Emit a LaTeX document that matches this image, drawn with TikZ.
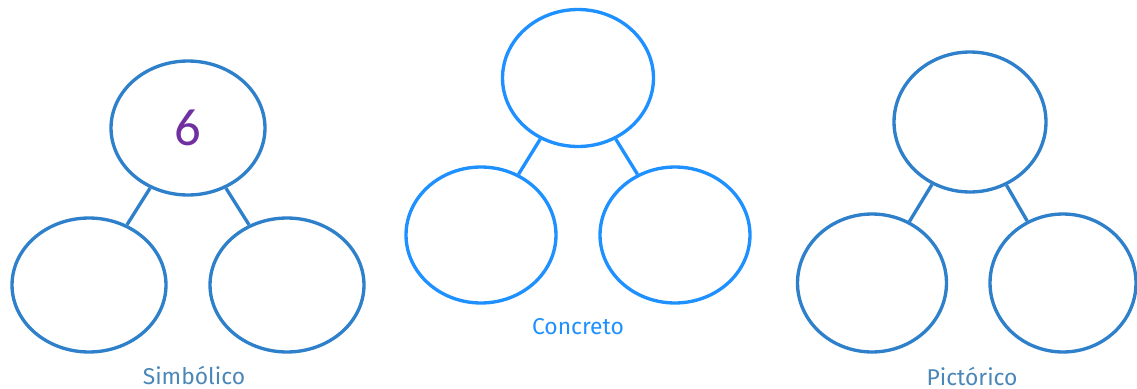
\documentclass[tikz,border=0pt]{standalone}
\usepackage{fontspec}
\setmainfont{Fira Sans}
\newfontfamily\numfont{Carlito}
\usetikzlibrary{shapes.geometric}
\definecolor{ringblue}{RGB}{46,128,202}
\definecolor{brightblue}{RGB}{30,144,255}
\definecolor{labblue}{RGB}{74,134,184}
\definecolor{numpurple}{RGB}{112,48,160}
\tikzset{
  bond/.style={ellipse,draw=ringblue,line width=1.9pt,inner sep=0pt},
  cbond/.style={bond,draw=brightblue},
  link/.style={ringblue,line width=1.9pt},
  clink/.style={link,brightblue},
  glab/.style={font=\fontsize{13}{15}\selectfont,text=labblue},
  every picture/.style={x=0.02cm,y=-0.02cm}
}
\begin{document}
\begin{tikzpicture}
  \useasboundingbox (0,0) rectangle (1137,389);
  % Simbolico
  \node[bond,minimum width=3.08cm,minimum height=2.68cm] (stop) at (188,128) {\numfont\fontsize{30}{32}\selectfont\color{numpurple}6};
  \node[bond,minimum width=3.08cm,minimum height=2.68cm] (sleft) at (89,285) {};
  \node[bond,minimum width=3.08cm,minimum height=2.68cm] (sright) at (287,285) {};
  \draw[link] (stop) -- (sleft); \draw[link] (stop) -- (sright);
  \node[glab] (slab) at (194,375) {Simbólico};
  % Concreto
  \node[cbond,minimum width=3.02cm,minimum height=2.74cm] (ctop) at (578,78) {};
  \node[cbond,minimum width=3.0cm,minimum height=2.72cm] (cleft) at (481,235) {};
  \node[cbond,minimum width=3.0cm,minimum height=2.72cm] (cright) at (675,235) {};
  \draw[clink] (ctop) -- (cleft); \draw[clink] (ctop) -- (cright);
  \node[glab,text=brightblue] (clab) at (578,327) {Concreto};
  % Pictorico
  \node[bond,minimum width=3.04cm,minimum height=2.8cm] (ptop) at (970,122) {};
  \node[bond,minimum width=2.98cm,minimum height=2.76cm] (pleft) at (872,283) {};
  \node[bond,minimum width=2.92cm,minimum height=2.76cm] (pright) at (1063,283) {};
  \draw[link] (ptop) -- (pleft); \draw[link] (ptop) -- (pright);
  \node[glab] (plab) at (972,376) {Pictórico};
\end{tikzpicture}
\end{document}
